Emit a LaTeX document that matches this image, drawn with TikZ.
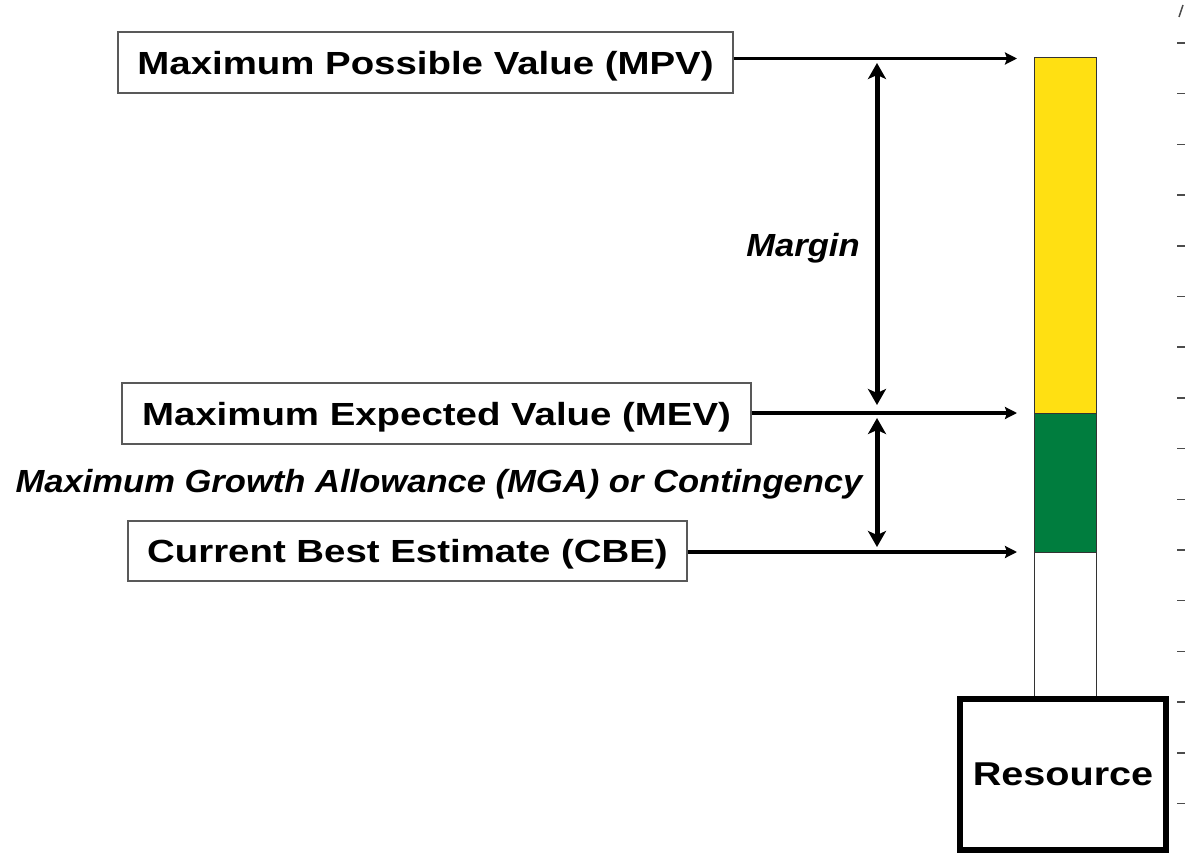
\documentclass[tikz,border=0pt]{standalone}
\usepackage{fontspec}
\setmainfont[FakeStretch=1.2]{Liberation Sans}
\newfontfamily\rotfont[FakeStretch=1.08]{Liberation Sans}
\usetikzlibrary{arrows.meta, positioning, calc}
\definecolor{amarelo}{RGB}{255,224,18}
\definecolor{verde}{RGB}{0,125,62}

\begin{document}
\begin{tikzpicture}[x=1pt, y=-1pt,
    caixa/.style={draw=black!65, line width=1.3pt, fill=white, inner sep=0pt, text depth=0pt,
        font=\fontsize{32}{36}\selectfont\bfseries},
    seta/.style={line width=3.5pt, -{Stealth[length=12pt, width=12pt, inset=2pt]}},
    dupla/.style={line width=5pt,
        {Stealth[length=16pt, width=18pt, inset=4pt]}-{Stealth[length=16pt, width=18pt, inset=4pt]}},
    rotulo/.style={font=\rotfont\fontsize{32}{36}\selectfont\bfseries\itshape},
    barra/.style={draw=black!80, line width=1pt, minimum width=62pt, inner sep=0pt},
    marca/.style={draw=black!70, line width=1.5pt}]
    \useasboundingbox (0,0) rectangle (1185,853);
    % Escala
    \foreach \k in {0,...,15} {
        \draw[marca] (1177,{43+50.7*\k}) -- (1185,{43+50.7*\k});
    }
    \draw[marca] (1179,17) -- (1183,5);
    % Barra
    \node[barra, fill=amarelo, minimum height=355pt] (margem) at (1065,235.5) {};
    \node[barra, fill=verde, minimum height=139pt] (mga) at (1065,482.5) {};
    \node[barra, fill=white, minimum height=145pt] (base) at (1065,624.5) {};
    \node[draw, line width=6pt, fill=white, minimum width=206pt, minimum height=151pt,
        font=\fontsize{33}{38}\selectfont\bfseries] (recurso) at (1063,774.5) {Resource};
    % Caixas
    \node[caixa, minimum width=615pt, minimum height=61pt] (mpv) at (425.5,62.5) {Maximum Possible Value (MPV)};
    \node[caixa, minimum width=629pt, minimum height=61pt] (mev) at (436.5,413.5) {Maximum Expected Value (MEV)};
    \node[caixa, minimum width=559pt, minimum height=60pt] (cbe) at (407.5,551) {Current Best Estimate (CBE)};
    % Setas
    \coordinate (pmpv) at (1017,58.5);
    \coordinate (pmev) at (1017,413);
    \coordinate (pcbe) at (1017,552);
    \draw[seta] (mpv.east |- pmpv) -- (pmpv);
    \draw[seta] (mev.east |- pmev) -- (pmev);
    \draw[seta] (cbe.east |- pcbe) -- (pcbe);
    \coordinate (m1) at (877,63);
    \coordinate (m2) at (877,405);
    \coordinate (g1) at (877,418);
    \coordinate (g2) at (877,547);
    \draw[dupla] (m1) -- (m2);
    \draw[dupla] (g1) -- (g2);
    % Rotulos
    \node[rotulo] (lmargem) at (803,248) {Margin};
    \node[rotulo] (lmga) at (439,484) {Maximum Growth Allowance (MGA) or Contingency};
\end{tikzpicture}
\end{document}
